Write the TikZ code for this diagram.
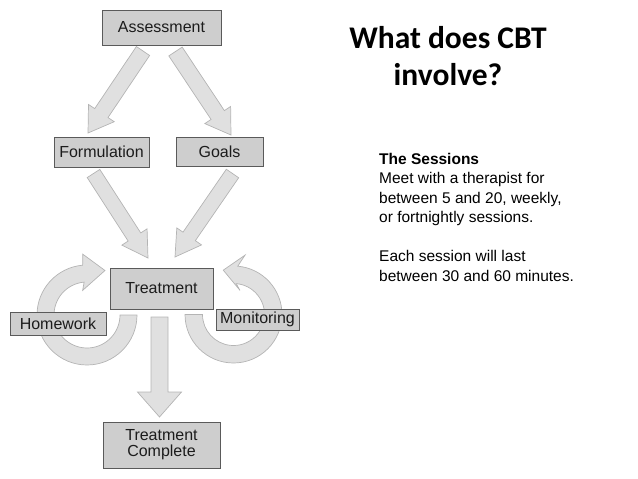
\documentclass[tikz,border=0pt]{standalone}
\usepackage{fontspec}
\setsansfont{Liberation Sans}
\newfontfamily\titlefont{Carlito}
\usepackage{tikz}
\usetikzlibrary{calc}
\definecolor{boxfill}{HTML}{CECECE}
\definecolor{boxline}{HTML}{5A5A5A}
\definecolor{arrfill}{HTML}{E0E0E0}
\definecolor{arrline}{HTML}{B4B4B4}
\definecolor{ink}{HTML}{1C1C1C}
\pgfdeclarelayer{bg}
\pgfsetlayers{bg,main}
% from, to, half shaft, half head, head length
\newcommand{\blockarrow}[5]{%
  \coordinate (hb) at ($(#2)!#5!(#1)$);
  \filldraw[arrowbody] ($(#1)!#3!90:(#2)$) -- ($(hb)!#3!90:(#2)$) -- ($(hb)!#4!90:(#2)$)
    -- (#2) -- ($(hb)!#4!-90:(#2)$) -- ($(hb)!#3!-90:(#2)$) -- ($(#1)!#3!-90:(#2)$) -- cycle;
}

\begin{document}
\begin{tikzpicture}[x=1pt, y=1pt,
  stage/.style={draw=boxline, fill=boxfill, line width=0.8pt, text=ink, inner sep=0pt,
    align=center, font=\sffamily\fontsize{16}{16.3}\selectfont},
  arrowbody/.style={fill=arrfill, draw=arrline, line width=0.7pt}]
\useasboundingbox (0,0) rectangle (638,-479);
\node[stage, minimum width=119pt, minimum height=35pt] (assess) at (161.5,-27.5) {Assessment};
\node[stage, minimum width=95pt, minimum height=30pt] (formul) at (101.5,-152) {Formulation};
\node[stage, minimum width=87pt, minimum height=29pt] (goals) at (219.5,-151.5) {Goals};
\node[stage, minimum width=103pt, minimum height=41pt] (treat) at (161.5,-288.5) {Treatment};
\node[stage, minimum width=96pt, minimum height=23pt] (homew) at (58,-323.5) {Homework};
\node[stage, minimum width=83pt, minimum height=21pt] (monit) at (257.5,-319.5) {Monitoring};
\node[stage, minimum width=117pt, minimum height=46pt] (done) at (161.5,-445) {Treatment\\Complete};
% arrow ends
\coordinate (s1) at (143,-51);    \coordinate (e1) at (88,-133);
\coordinate (s2) at (175.5,-51.5); \coordinate (e2) at (231,-135);
\coordinate (s3) at (93.5,-173.5); \coordinate (e3) at (148,-258);
\coordinate (s4) at (232.5,-173.5); \coordinate (e4) at (175,-257);
\coordinate (s5) at (159.5,-317);  \coordinate (e5) at (159.5,-417);
\coordinate (hc) at (87,-315);
\coordinate (mc) at (233.5,-314.5);
\begin{pgfonlayer}{bg}
\foreach \s/\e/\w/\h/\l in {s1/e1/8pt/15.5pt/24pt, s2/e2/8pt/15.5pt/24pt, s3/e3/7.5pt/15pt/25pt,
  s4/e4/7.5pt/15pt/25pt, s5/e5/8.5pt/22pt/25pt}
  {\blockarrow{\s}{\e}{\w}{\h}{\l}}
% loop arrows
\filldraw[arrowbody] ([shift={(hc)}]0:50pt) arc[start angle=0, end angle=-265, radius=50pt]
  -- ([shift={(hc)}]94:61pt) -- ([shift={(hc)}]68:48pt) -- ([shift={(hc)}]100:25pt)
  -- ([shift={(hc)}]95:33pt) arc[start angle=-265, end angle=0, radius=33pt] -- cycle;
\filldraw[arrowbody] ([shift={(mc)}]180:48.5pt) arc[start angle=180, end angle=445, radius=48.5pt]
  -- ([shift={(mc)}]79:60.5pt) -- ([shift={(mc)}]103:45.5pt) -- ([shift={(mc)}]75:25pt)
  -- ([shift={(mc)}]85:31pt) arc[start angle=445, end angle=180, radius=31pt] -- cycle;
\end{pgfonlayer}
\node[font=\titlefont\bfseries\fontsize{31.5}{36.7}\selectfont, align=center, anchor=north,
  inner sep=0pt] (title) at (448,-26) {What does CBT\\involve?};
\node[font=\sffamily\fontsize{15.5}{19.5}\selectfont, align=left, anchor=north west,
  inner sep=0pt] (sess) at (379,-152.7) {\textbf{The Sessions}\\Meet with a therapist for\\
  between 5 and 20, weekly,\\or fortnightly sessions.\\[19.5pt]Each session will last\\
  between 30 and 60 minutes.};
\end{tikzpicture}
\end{document}
